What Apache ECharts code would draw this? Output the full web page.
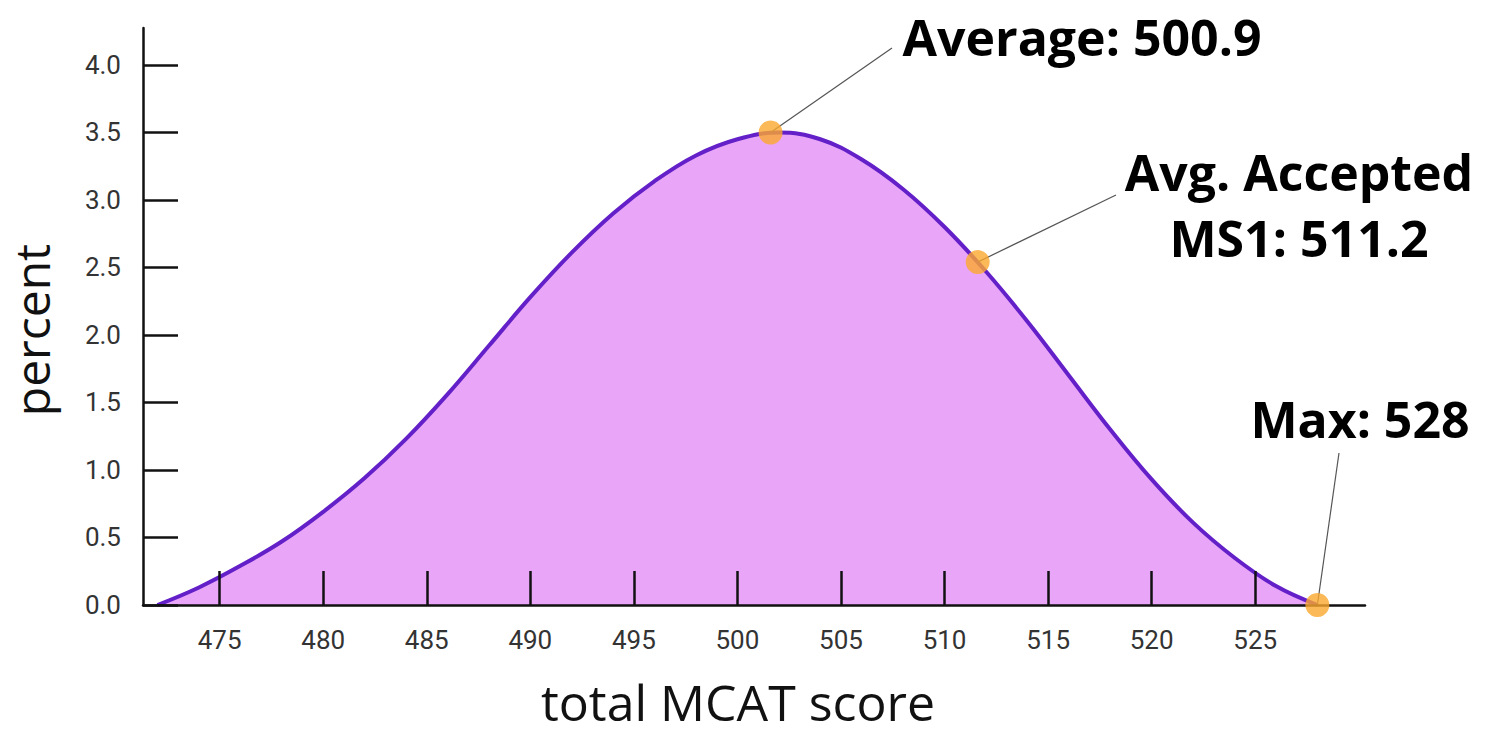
<!DOCTYPE html>
<html>
<head>
<meta charset="utf-8">
<script src="https://cdn.jsdelivr.net/npm/echarts@6/dist/echarts.min.js"></script>
<style>
  html, body { margin: 0; padding: 0; background: #fff; }
  #chart { width: 1485px; height: 735px; }
</style>
</head>
<body>
<div id="chart"></div>
<script>
// ---- data ----
const scoreX   = [472, 474, 476, 478, 480, 482, 484, 486, 488, 490, 492, 494, 496, 498, 500, 502, 504, 506, 508, 510, 512, 514, 516, 518, 520, 522, 524, 526, 528];
const percentY = [0.00, 0.13, 0.29, 0.47, 0.69, 0.94, 1.23, 1.56, 1.92, 2.28, 2.61, 2.90, 3.14, 3.33, 3.45, 3.50, 3.45, 3.30, 3.08, 2.80, 2.47, 2.10, 1.70, 1.30, 0.93, 0.61, 0.35, 0.14, 0.00];

const markerLabels = ['Average: 500.9', 'Avg. Accepted\nMS1: 511.2', 'Max: 528'];
const markerX      = [501.6, 511.6, 528.0];
const markerY      = [3.50, 2.54, 0.00];

const xTickValues = [475, 480, 485, 490, 495, 500, 505, 510, 515, 520, 525];
const yTickValues = [0, 0.5, 1.0, 1.5, 2.0, 2.5, 3.0, 3.5, 4.0];

const xAxisTitle = 'total MCAT score';
const yAxisTitle = 'percent';

// ---- chart ----
const chart = echarts.init(document.getElementById('chart'), null, { renderer: 'svg' });

const curve = scoreX.map((x, i) => [x, percentY[i]]);
const markers = markerX.map((x, i) => ({ name: markerLabels[i], value: [x, markerY[i]] }));

const axisColor = '#111';
const option = {
  backgroundColor: '#ffffff',
  animation: false,
  grid: { left: 143, right: 120, top: 28, bottom: 130, containLabel: false },
  xAxis: {
    type: 'value',
    min: 471.3,
    max: 530.3,
    z: 3,
    splitLine: { show: false },
    axisLine: { show: true, lineStyle: { color: axisColor, width: 2.5 } },
    axisTick: { show: true, inside: true, length: 34, customValues: xTickValues, lineStyle: { color: axisColor, width: 2.5 } },
    axisLabel: { customValues: xTickValues, margin: 22, color: '#333', fontSize: 26, fontFamily: 'Roboto' }
  },
  yAxis: {
    type: 'value',
    min: 0,
    max: 4.274,
    z: 3,
    splitLine: { show: false },
    axisLine: { show: true, lineStyle: { color: axisColor, width: 2.5 } },
    axisTick: { show: true, inside: true, length: 35, customValues: yTickValues, lineStyle: { color: axisColor, width: 2.5 } },
    axisLabel: { customValues: yTickValues, margin: 22, color: '#333', fontSize: 26, fontFamily: 'Roboto',
      formatter: v => Number(v).toFixed(1) }
  },
  series: [
    {
      type: 'line',
      data: curve,
      smooth: 0.4,
      showSymbol: false,
      lineStyle: { color: '#6420C8', width: 4 },
      areaStyle: { color: '#E9A6F9', opacity: 1 },
      z: 2
    },
    {
      type: 'scatter',
      data: markers,
      symbolSize: 24,
      itemStyle: { color: '#FBA82E' },
      z: 5
    }
  ]
};
chart.setOption(option);

// annotation text anchors (layout positions) and leader-line ends
const labelPos = [
  { x: 1082, y: 37,  lineEnd: [892, 48],   lineHeight: 50 },
  { x: 1299, y: 205, lineEnd: [1116, 195], lineHeight: 66 },
  { x: 1360, y: 419, lineEnd: [1339, 453], lineHeight: 52 }
];

const graphics = [];
markers.forEach((m, i) => {
  const p = chart.convertToPixel({ gridIndex: 0 }, m.value);
  graphics.push({
    type: 'line', z: 3,
    shape: { x1: p[0], y1: p[1], x2: labelPos[i].lineEnd[0], y2: labelPos[i].lineEnd[1] },
    style: { stroke: '#555', lineWidth: 1.2 }
  });
  graphics.push({
    type: 'text', z: 6, x: labelPos[i].x, y: labelPos[i].y,
    style: {
      text: m.name, fill: '#000', font: 'bold 50px "Open Sans"',
      align: 'center', verticalAlign: 'middle', lineHeight: labelPos[i].lineHeight
    }
  });
});
graphics.push({
  type: 'text', x: 738, y: 702,
  style: { text: xAxisTitle, fill: '#111', font: '50px "Open Sans"', align: 'center', verticalAlign: 'middle', lineHeight: 50 }
});
graphics.push({
  type: 'text', x: 31, y: 330, rotation: Math.PI / 2,
  style: { text: yAxisTitle, fill: '#111', font: '48px "Open Sans"', align: 'center', verticalAlign: 'middle', lineHeight: 48 }
});
chart.setOption({ graphic: graphics });
</script>
</body>
</html>
